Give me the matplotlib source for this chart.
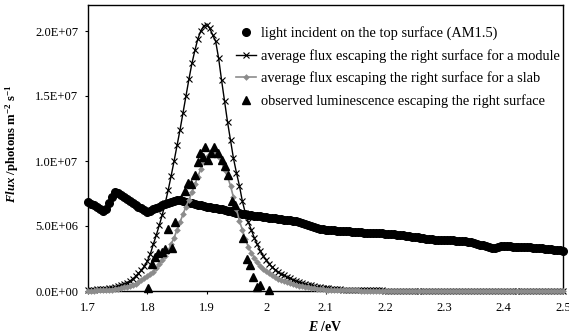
import numpy as np
import matplotlib
matplotlib.use("Agg")
import matplotlib.pyplot as plt
from matplotlib.ticker import FuncFormatter, MultipleLocator

plt.rcParams['font.family'] = ['Liberation Serif', 'DejaVu Serif']
plt.rcParams['mathtext.fontset'] = 'custom'
plt.rcParams['mathtext.rm'] = 'Liberation Serif'
plt.rcParams['mathtext.it'] = 'Liberation Serif:italic'
plt.rcParams['mathtext.bf'] = 'Liberation Serif:bold'
plt.rcParams['mathtext.bfit'] = 'Liberation Serif:italic:bold'

# energy grid (eV), step 0.005 from 1.7 to 2.5
energy = np.round(np.arange(1.700, 2.5001, 0.005), 3)

# light incident on the top surface (AM1.5), units of 1e6 photons m^-2 s^-1
am15 = [6.85, 6.72, 6.58, 6.44, 6.28, 6.12, 6.30, 6.75, 7.25, 7.65,
        7.55, 7.40, 7.25, 7.10, 6.95, 6.80, 6.65, 6.50, 6.35, 6.20,
        6.08, 6.15, 6.28, 6.40, 6.50, 6.58, 6.66, 6.74, 6.82, 6.90,
        6.97, 6.98, 6.92, 6.86, 6.80, 6.75, 6.70, 6.65, 6.60, 6.55,
        6.50, 6.46, 6.42, 6.38, 6.33, 6.28, 6.23, 6.18, 6.13, 6.08,
        6.03, 5.98, 5.94, 5.90, 5.86, 5.83, 5.80, 5.77, 5.74, 5.71,
        5.68, 5.65, 5.62, 5.59, 5.56, 5.53, 5.50, 5.47, 5.44, 5.41,
        5.38, 5.33, 5.26, 5.18, 5.10, 5.02, 4.94, 4.86, 4.80, 4.75,
        4.72, 4.70, 4.68, 4.66, 4.64, 4.62, 4.61, 4.60, 4.59, 4.57,
        4.55, 4.53, 4.51, 4.49, 4.48, 4.47, 4.46, 4.45, 4.44, 4.43,
        4.42, 4.40, 4.38, 4.36, 4.34, 4.32, 4.29, 4.26, 4.22, 4.18,
        4.14, 4.12, 4.08, 4.04, 4.01, 3.99, 3.97, 3.95, 3.94, 3.93,
        3.92, 3.91, 3.90, 3.89, 3.88, 3.87, 3.86, 3.84, 3.80, 3.74,
        3.68, 3.62, 3.57, 3.52, 3.44, 3.36, 3.29, 3.30, 3.40, 3.44,
        3.44, 3.43, 3.43, 3.42, 3.42, 3.41, 3.40, 3.39, 3.37, 3.35,
        3.33, 3.32, 3.30, 3.28, 3.25, 3.22, 3.20, 3.17, 3.15, 3.12,
        3.10]

# average flux escaping the right surface for a module (1e6)
module = [0.08, 0.09, 0.10, 0.12, 0.14, 0.16, 0.19, 0.22, 0.26, 0.31,
          0.37, 0.44, 0.52, 0.62, 0.75, 0.92, 1.12, 1.35, 1.60, 1.90,
          2.30, 2.85, 3.60, 4.30, 5.05, 5.85, 6.75, 7.75, 8.85, 10.0,
          11.2, 12.4, 13.7, 15.0, 16.3, 17.5, 18.5, 19.4, 20.0, 20.4,
          20.5, 20.2, 19.7, 19.2, 17.9, 16.2, 14.6, 13.0, 11.6, 10.2,
          9.1, 8.1, 6.9, 6.0, 5.3, 4.7, 4.1, 3.6, 3.1, 2.7,
          2.4, 2.1, 1.85, 1.65, 1.48, 1.33, 1.20, 1.08, 0.98, 0.88,
          0.78, 0.69, 0.61, 0.54, 0.48, 0.43, 0.38, 0.33, 0.29, 0.25,
          0.22, 0.20, 0.18, 0.16, 0.14, 0.12, 0.11, 0.10, 0.09, 0.08,
          0.07, 0.07, 0.06, 0.06, 0.05, 0.05, 0.04, 0.04, 0.04, 0.04,
          0.03, 0.03, 0.03, 0.03, 0.03, 0.03, 0.02, 0.02, 0.02, 0.02,
          0.02, 0.02, 0.02, 0.02, 0.02, 0.02, 0.02, 0.01, 0.01, 0.01,
          0.01, 0.01, 0.01, 0.01, 0.01, 0.01, 0.01, 0.01, 0.01, 0.01,
          0.01, 0.01, 0.01, 0.01, 0.01, 0.01, 0.01, 0.01, 0.01, 0.01,
          0.01, 0.01, 0.01, 0.01, 0.01, 0.01, 0.01, 0.01, 0.01, 0.01,
          0.01, 0.01, 0.01, 0.01, 0.01, 0.01, 0.01, 0.01, 0.01, 0.01,
          0.01]

# average flux escaping the right surface for a slab (1e6)
slab = [0.02, 0.03, 0.03, 0.04, 0.05, 0.06, 0.07, 0.09, 0.11, 0.14,
        0.18, 0.22, 0.27, 0.33, 0.40, 0.48, 0.57, 0.68, 0.82, 0.98,
        1.15, 1.33, 1.50, 1.75, 2.05, 2.35, 2.70, 3.10, 3.60, 4.10,
        4.70, 5.30, 5.90, 6.50, 7.00, 7.60, 8.20, 8.80, 9.40, 9.90,
        10.3, 10.55, 10.65, 10.55, 10.3, 9.9, 9.3, 8.8, 8.1, 7.2,
        6.3, 5.4, 4.7, 4.0, 3.4, 2.95, 2.55, 2.2, 1.9, 1.7,
        1.55, 1.38, 1.22, 1.08, 0.95, 0.85, 0.75, 0.67, 0.59, 0.52,
        0.46, 0.40, 0.35, 0.31, 0.27, 0.23, 0.20, 0.18, 0.15, 0.13,
        0.11, 0.10, 0.09, 0.08, 0.07, 0.06, 0.06, 0.05, 0.05, 0.04,
        0.04, 0.04, 0.03, 0.03, 0.03, 0.03, 0.02, 0.02, 0.02, 0.02,
        0.02, 0.02, 0.02, 0.02, 0.02, 0.02, 0.01, 0.01, 0.01, 0.01,
        0.01, 0.01, 0.01, 0.01, 0.01, 0.01, 0.01, 0.01, 0.01, 0.01,
        0.01, 0.01, 0.01, 0.01, 0.01, 0.01, 0.01, 0.01, 0.01, 0.01,
        0.01, 0.01, 0.01, 0.01, 0.01, 0.01, 0.01, 0.01, 0.01, 0.01,
        0.01, 0.01, 0.01, 0.01, 0.01, 0.01, 0.01, 0.01, 0.01, 0.01,
        0.01, 0.01, 0.01, 0.01, 0.01, 0.01, 0.01, 0.01, 0.01, 0.01,
        0.01]

# observed luminescence escaping the right surface
obs_energy = [1.801, 1.807, 1.813, 1.818, 1.824, 1.830, 1.835, 1.841, 1.846,
              1.857, 1.863, 1.868, 1.874, 1.880, 1.885, 1.889, 1.894, 1.897,
              1.902, 1.907, 1.913, 1.919, 1.925, 1.931, 1.936, 1.942, 1.947,
              1.961, 1.967, 1.973, 1.978, 1.985, 1.990, 2.005]
obs_flux = [0.2, 2.1, 2.6, 2.9, 3.0, 3.2, 4.8, 3.3, 5.3,
            7.1, 7.7, 8.3, 8.2, 8.9, 9.9, 10.6, 10.3, 11.1,
            10.1, 10.6, 11.1, 10.6, 10.1, 9.6, 8.9, 6.9, 6.6,
            4.05, 2.5, 2.0, 1.1, 0.3, 0.5, 0.1]

labels = ["light incident on the top surface (AM1.5)",
          "average flux escaping the right surface for a module",
          "average flux escaping the right surface for a slab",
          "observed luminescence escaping the right surface"]

scale = 1e6
W, H = 569, 336
fig = plt.figure(figsize=(W / 100, H / 100), dpi=100)
ax = fig.add_axes([88 / W, 1 - 291 / H, (563 - 88) / W, (291 - 5) / H])

gray = '#8c8c8c'
ax.plot(energy, np.array(am15) * scale, linestyle='none', marker='o',
        ms=5.5, color='black', clip_on=False, zorder=3, label=labels[0])
ax.plot(energy, np.array(module) * scale, '-', color='black', lw=1.0,
        marker='x', ms=4.5, mew=0.8, clip_on=False, zorder=4, label=labels[1])
ax.plot(energy, np.array(slab) * scale, '-', color=gray, lw=1.2,
        marker='D', ms=3.4, mew=0, clip_on=False, zorder=5, label=labels[2])
ax.plot(obs_energy, np.array(obs_flux) * scale, linestyle='none', marker='^',
        ms=6, color='black', clip_on=False, zorder=6, label=labels[3])

ax.set_xlim(1.7, 2.5)
ax.set_ylim(0, 2.2e7)
ax.xaxis.set_major_locator(MultipleLocator(0.1))
ax.yaxis.set_major_locator(MultipleLocator(5e6))


def xfmt(v, pos):
    s = f"{v:.1f}"
    return s[:-2] if s.endswith('.0') and abs(v - 2.0) < 1e-9 else s


ax.xaxis.set_major_formatter(FuncFormatter(xfmt))
ax.yaxis.set_major_formatter(FuncFormatter(lambda v, p: f"{v:.1E}"))
ax.tick_params(axis='both', direction='out', length=2.5, width=0.8,
               labelsize=9)
ax.tick_params(axis='y', pad=4.5)
ax.tick_params(axis='x', pad=5.5)
for s in ax.spines.values():
    s.set_linewidth(1.0)

ax.set_xlabel(r"$\mathbfit{E}$ /eV", fontsize=10, fontweight='bold', labelpad=4)
ax.set_ylabel(r"$\mathbfit{Flux}$ /photons m$^{\mathbf{-2}}$ s$^{\mathbf{-1}}$",
              fontsize=9.2, fontweight='bold')
ax.yaxis.set_label_coords((21 - 88) / 475, (291 - 143.5) / 286)

leg = ax.legend(loc='upper left', bbox_to_anchor=(236 / W, 1 - 26 / H),
                bbox_transform=fig.transFigure, frameon=False, fontsize=10.4,
                borderpad=0, borderaxespad=0, handlelength=1.4,
                handletextpad=0.3, labelspacing=0.62)

fig.savefig("out.png", dpi=100)
